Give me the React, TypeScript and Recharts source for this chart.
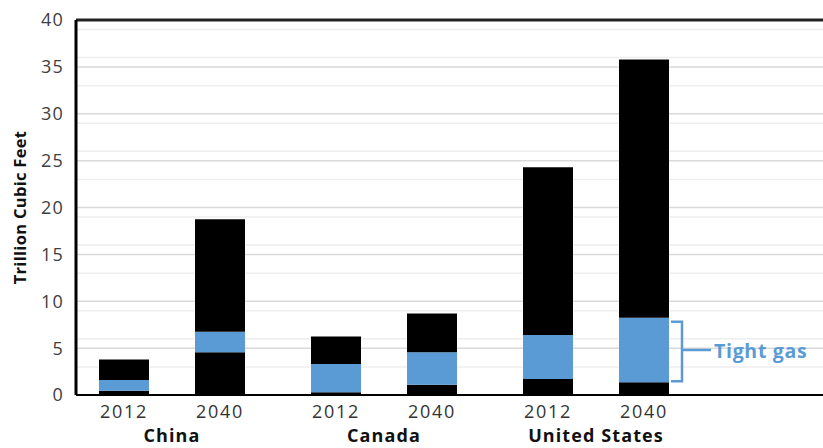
import React from 'react';
import { BarChart, Bar, XAxis, YAxis, CartesianGrid, ReferenceLine, LabelList } from 'recharts';

const countries = ['China', 'Canada', 'United States'];
const years = ['2012', '2040'];
const base2012 = [0.45, 0.3, 1.7];
const tight2012 = [1.15, 3.0, 4.7];
const other2012 = [2.2, 2.95, 17.9];
const base2040 = [4.55, 1.1, 1.35];
const tight2040 = [2.2, 3.45, 6.9];
const other2040 = [12.0, 4.15, 27.55];
const yTicks = [0, 5, 10, 15, 20, 25, 30, 35, 40];
const minorTicks = [1, 2, 3, 4, 6, 7, 8, 9, 11, 12, 13, 14, 16, 17, 18, 19, 21, 22, 23, 24, 26, 27, 28, 29, 31, 32, 33, 34, 36, 37, 38, 39];
const annotation = 'Tight gas';
const yLabel = 'Trillion Cubic Feet';

const data = countries.map((c, i) => ({
  country: c,
  b12: base2012[i],
  t12: tight2012[i],
  o12: other2012[i],
  b40: base2040[i],
  t40: tight2040[i],
  o40: other2040[i],
}));

const FONT = "'Open Sans', sans-serif";
const BLUE = '#5b9bd5';

const box = (p: any) => {
  const v = p.viewBox && p.viewBox.width !== undefined ? p.viewBox : p;
  return { x: Number(v.x), y: Number(v.y), width: Number(v.width), height: Number(v.height) };
};

const yearLabel = (year: string) => (p: any) => {
  const b = box(p);
  return (
    <text
      x={b.x + b.width / 2}
      y={b.y + b.height + 23}
      textAnchor="middle"
      fontFamily={FONT}
      fontSize={18}
      letterSpacing={1.7}
      fill="#333"
    >
      {year}
    </text>
  );
};

const bracket = (p: any) => {
  if (p.index !== countries.length - 1) return null;
  const b = box(p);
  const right = b.x + b.width;
  const top = b.y + 4;
  const bottom = b.y + b.height - 1;
  const mid = b.y + b.height / 2;
  const vx = right + 13;
  return (
    <g>
      <path
        d={`M${right + 2},${top} H${vx} V${bottom} H${right + 2} M${vx},${mid} H${right + 42}`}
        stroke={BLUE}
        strokeWidth={2.5}
        fill="none"
      />
      <text
        x={right + 45}
        y={mid}
        dominantBaseline="central"
        fontFamily={FONT}
        fontWeight={700}
        fontSize={19.5}
        letterSpacing={0.7}
        fill={BLUE}
      >
        {annotation}
      </text>
    </g>
  );
};

const CountryTick = (p: any) => {
  const { x, y, payload } = p;
  return (
    <text
      x={x}
      y={y + 47}
      textAnchor="middle"
      fontFamily={FONT}
      fontWeight={700}
      fontSize={18}
      letterSpacing={1.1}
      fill="#111"
    >
      {payload.value}
    </text>
  );
};

const YTitle = (p: any) => {
  const b = box(p);
  const cy = b.y + b.height / 2;
  const cx = 19;
  return (
    <text
      x={cx}
      y={cy}
      transform={`rotate(-90 ${cx} ${cy})`}
      textAnchor="middle"
      dominantBaseline="central"
      fontFamily={FONT}
      fontWeight={700}
      fontSize={16.5}
      letterSpacing={0.3}
      fill="#111"
    >
      {yLabel}
    </text>
  );
};

export default function App() {
  return (
    <div style={{ position: 'absolute', left: 0, top: 0, width: 823, height: 448, overflow: 'hidden', background: '#fff' }}>
      <BarChart
        width={823}
        height={448}
        data={data}
        margin={{ top: 20, right: 0, bottom: 0, left: 0 }}
        barSize={50}
        barGap={46}
      >
        <CartesianGrid horizontal vertical={false} horizontalValues={minorTicks} stroke="#eeeeee" strokeWidth={1.5} />
        <CartesianGrid horizontal vertical={false} horizontalValues={yTicks} stroke="#d9d9d9" strokeWidth={1.5} />
        <XAxis
          dataKey="country"
          type="category"
          padding={{ left: -10, right: 121 }}
          height={53}
          tickLine={false}
          tickSize={0}
          tickMargin={0}
          axisLine={{ stroke: '#000', strokeWidth: 2 }}
          tick={<CountryTick />}
          interval={0}
        />
        <YAxis
          type="number"
          domain={[0, 40]}
          ticks={yTicks}
          width={76}
          tickLine={false}
          tickSize={0}
          tickMargin={12}
          axisLine={{ stroke: '#000', strokeWidth: 3 }}
          tick={{ fontFamily: FONT, fontSize: 18, fill: '#404040', letterSpacing: 1.2 }}
          label={{ content: YTitle }}
        />
        <ReferenceLine y={40} stroke="#222" strokeWidth={3} />
        <Bar dataKey="b12" stackId="2012" fill="#000" isAnimationActive={false}>
          <LabelList dataKey="b12" content={yearLabel(years[0])} />
        </Bar>
        <Bar dataKey="t12" stackId="2012" fill={BLUE} isAnimationActive={false} />
        <Bar dataKey="o12" stackId="2012" fill="#000" isAnimationActive={false} />
        <Bar dataKey="b40" stackId="2040" fill="#000" isAnimationActive={false}>
          <LabelList dataKey="b40" content={yearLabel(years[1])} />
        </Bar>
        <Bar dataKey="t40" stackId="2040" fill={BLUE} isAnimationActive={false}>
          <LabelList dataKey="t40" content={bracket} />
        </Bar>
        <Bar dataKey="o40" stackId="2040" fill="#000" isAnimationActive={false} />
      </BarChart>
    </div>
  );
}
